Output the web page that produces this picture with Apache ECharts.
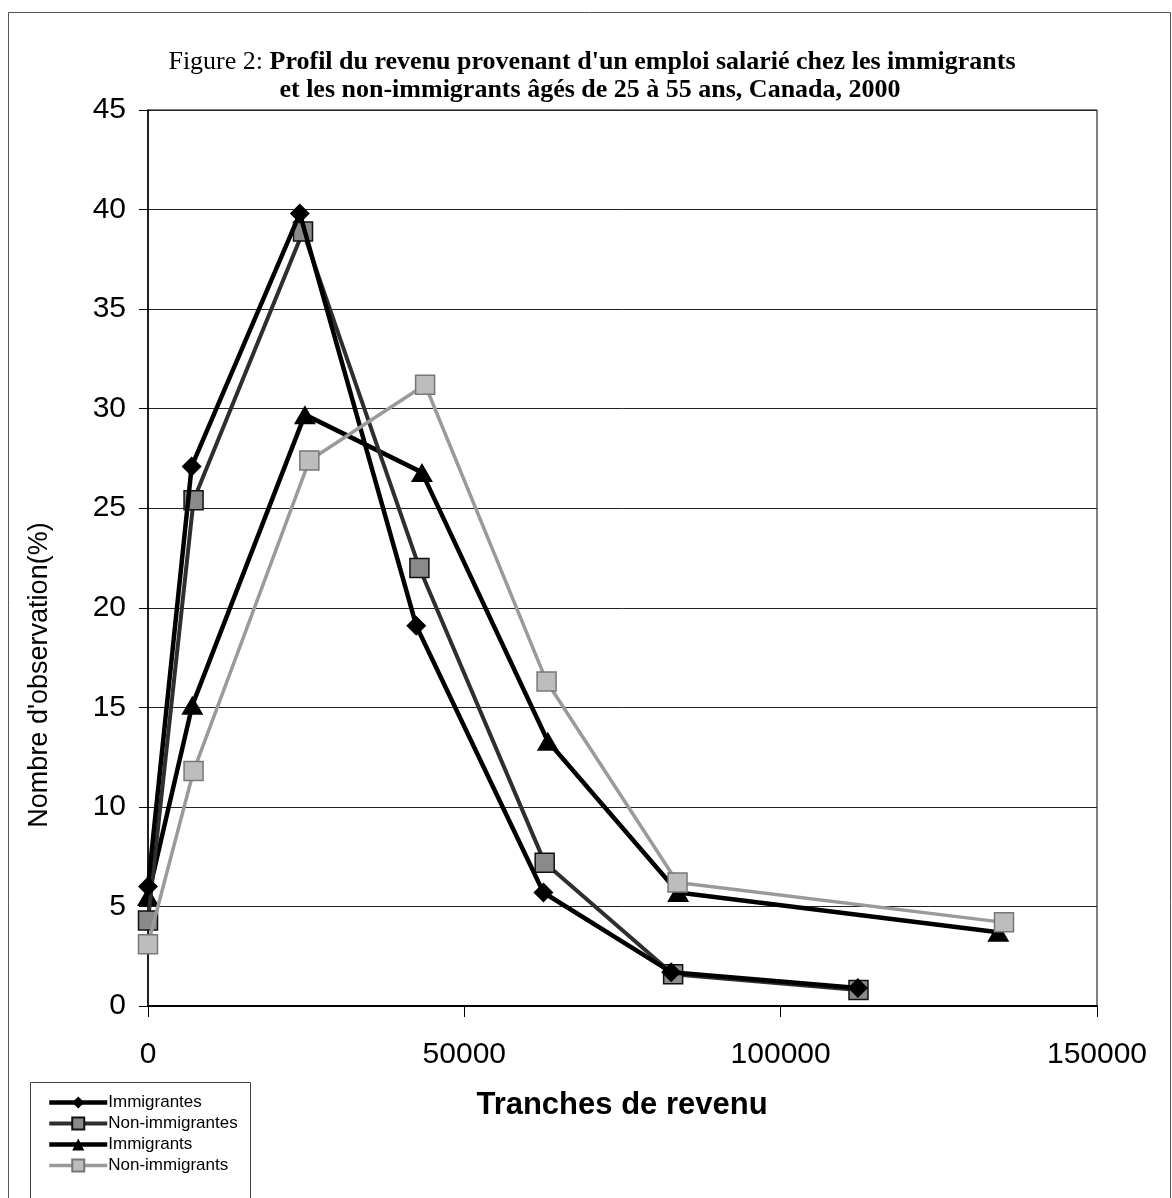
<!DOCTYPE html>
<html><head><meta charset="utf-8">
<script src="https://cdn.jsdelivr.net/npm/echarts@6/dist/echarts.min.js"></script>
<style>html,body{margin:0;padding:0;background:#fff}#c{width:1172px;height:1198px}</style>
</head><body><div id="c"></div>
<script>
const seriesNames = ['Immigrantes', 'Non-immigrantes', 'Immigrants', 'Non-immigrants'];
const xImmigrantes = [0, 6900, 24000, 42400, 62500, 82700, 112200];
const yImmigrantes = [6.0, 27.1, 39.8, 19.1, 5.7, 1.7, 0.9];
const xNonImmigrantes = [0, 7200, 24500, 42900, 62700, 83000, 112300];
const yNonImmigrantes = [4.3, 25.4, 38.9, 22.0, 7.2, 1.6, 0.8];
const xImmigrants = [0, 7000, 24800, 43300, 63200, 83800, 134400];
const yImmigrants = [5.5, 15.1, 29.7, 26.8, 13.3, 5.7, 3.7];
const xNonImmigrants = [0, 7200, 25500, 43800, 63000, 83700, 135300];
const yNonImmigrants = [3.1, 11.8, 27.4, 31.2, 16.3, 6.2, 4.2];
const titleLine1Normal = 'Figure 2: ';
const titleLine1Bold = "Profil du revenu provenant d'un emploi salarié chez les immigrants";
const titleLine2 = 'et les non-immigrants âgés de 25 à 55 ans, Canada, 2000';
const xAxisTitle = 'Tranches de revenu';
const yAxisTitle = "Nombre d'observation(%)";

function zip(xs, ys) { return xs.map((x, i) => [x, ys[i]]); }

const chart = echarts.init(document.getElementById('c'), null, {renderer: 'canvas'});
const SANS = 'Liberation Sans, Arial, sans-serif';
const SERIF = 'Liberation Serif, Times New Roman, serif';

const lineW = [4.5, 4, 4.5, 3.5];

chart.setOption({
  animation: false,
  backgroundColor: '#fff',
  grid: {left: 148, right: 75, top: 110, bottom: 192, show: true, borderColor: '#000', borderWidth: 1, backgroundColor: 'transparent'},
  xAxis: {
    type: 'value', min: 0, max: 150000, interval: 50000,
    axisLine: {show: true, lineStyle: {color: '#000', width: 2}},
    axisTick: {show: true, length: 11, lineStyle: {color: '#000', width: 1}},
    splitLine: {show: false},
    axisLabel: {fontSize: 30, color: '#000', fontFamily: SANS, margin: 34, formatter: v => String(v)}
  },
  yAxis: {
    type: 'value', min: 0, max: 45, interval: 5,
    axisLine: {show: true, lineStyle: {color: '#000', width: 1.5}},
    axisTick: {show: true, length: 9, lineStyle: {color: '#000', width: 1}},
    splitLine: {show: true, lineStyle: {color: '#222', width: 1}},
    axisLabel: {fontSize: 30, color: '#000', fontFamily: SANS, margin: 22, formatter: v => String(v)}
  },
  legend: {
    data: seriesNames.map((n, i) => ({name: n, lineStyle: {width: lineW[i]}})),
    orient: 'vertical', left: 47, top: 1094, padding: 0,
    itemWidth: 58, itemHeight: 15, itemGap: 4,
    textStyle: {fontSize: 17, color: '#000', fontFamily: SANS, padding: [0, 0, 0, -4]}
  },
  series: [
    {name: seriesNames[0], type: 'line', data: zip(xImmigrantes, yImmigrantes), symbol: 'diamond', symbolSize: 20,
     itemStyle: {color: '#000'}, lineStyle: {color: '#000', width: lineW[0]}, z: 4},
    {name: seriesNames[1], type: 'line', data: zip(xNonImmigrantes, yNonImmigrantes), symbol: 'rect', symbolSize: 19,
     itemStyle: {color: '#8a8a8a', borderColor: '#111', borderWidth: 1.5}, lineStyle: {color: '#2e2e2e', width: lineW[1]}, z: 3},
    {name: seriesNames[2], type: 'line', data: zip(xImmigrants, yImmigrants), symbol: 'triangle', symbolSize: [22, 19],
     itemStyle: {color: '#000'}, lineStyle: {color: '#000', width: lineW[2]}, z: 2},
    {name: seriesNames[3], type: 'line', data: zip(xNonImmigrants, yNonImmigrants), symbol: 'rect', symbolSize: 19,
     itemStyle: {color: '#bdbdbd', borderColor: '#777', borderWidth: 1.5}, lineStyle: {color: '#9a9a9a', width: lineW[3]}, z: 5}
  ],
  graphic: [
    {type: 'rect', shape: {x: 8.5, y: 12.5, width: 1162, height: 1200}, style: {fill: 'none', stroke: '#555', lineWidth: 1}, silent: true},
    {type: 'rect', shape: {x: 30.5, y: 1082.5, width: 220, height: 130}, style: {fill: 'none', stroke: '#444', lineWidth: 1}, silent: true},
    {type: 'text', x: 592, y: 62, style: {
      text: '{n|' + titleLine1Normal + '}{b|' + titleLine1Bold + '}',
      align: 'center', verticalAlign: 'middle',
      rich: {n: {fontFamily: SERIF, fontSize: 26, fill: '#000'}, b: {fontFamily: SERIF, fontSize: 26, fontWeight: 'bold', fill: '#000'}}
    }},
    {type: 'text', x: 590, y: 90, style: {text: titleLine2, align: 'center', verticalAlign: 'middle',
      font: 'bold 26px ' + SERIF, fill: '#000'}},
    {type: 'text', x: 622, y: 1105, style: {text: xAxisTitle, align: 'center', verticalAlign: 'middle',
      font: 'bold 31px ' + SANS, fill: '#000'}},
    {type: 'text', x: 40, y: 675, rotation: Math.PI / 2, style: {text: yAxisTitle, align: 'center', verticalAlign: 'middle',
      font: '27px ' + SANS, fill: '#000'}}
  ]
});
</script>
</body></html>
